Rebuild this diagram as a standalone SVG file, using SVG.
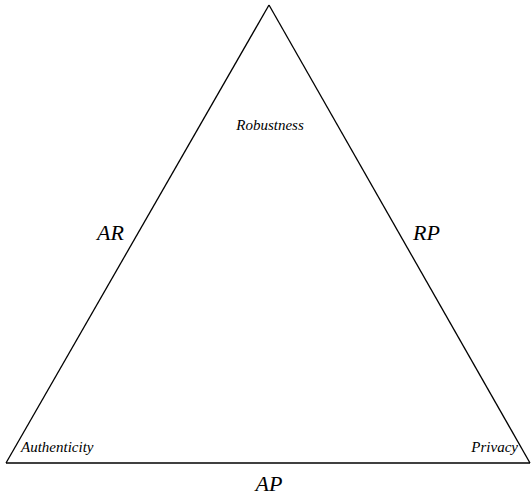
<svg xmlns="http://www.w3.org/2000/svg" width="531" height="495" viewBox="0 0 531 495">
<style>
.edge{fill:none;stroke:#000;stroke-width:1.3}
.s{font-family:'Liberation Serif','Times New Roman',serif;font-style:italic;font-size:15px;fill:#000}
.l{font-family:'Liberation Serif','Times New Roman',serif;font-style:italic;font-size:22px;fill:#000}
</style>
<rect width="531" height="495" fill="#fff"/>
<g id="connectors">
<path class="edge" d="M269,5 L6,463"/>
<path class="edge" d="M269,5 L530,463"/>
<path class="edge" d="M6,463 L530,463"/>
</g>
<g id="robustness"><text class="s" x="270" y="130" text-anchor="middle">Robustness</text></g>
<g id="authenticity"><text class="s" x="21" y="452">Authenticity</text></g>
<g id="privacy"><text class="s" x="518" y="452" text-anchor="end">Privacy</text></g>
<g id="ar"><text class="l" x="97" y="240">AR</text></g>
<g id="rp"><text class="l" x="413" y="240">RP</text></g>
<g id="ap"><text class="l" x="269" y="491" text-anchor="middle">AP</text></g>
</svg>
